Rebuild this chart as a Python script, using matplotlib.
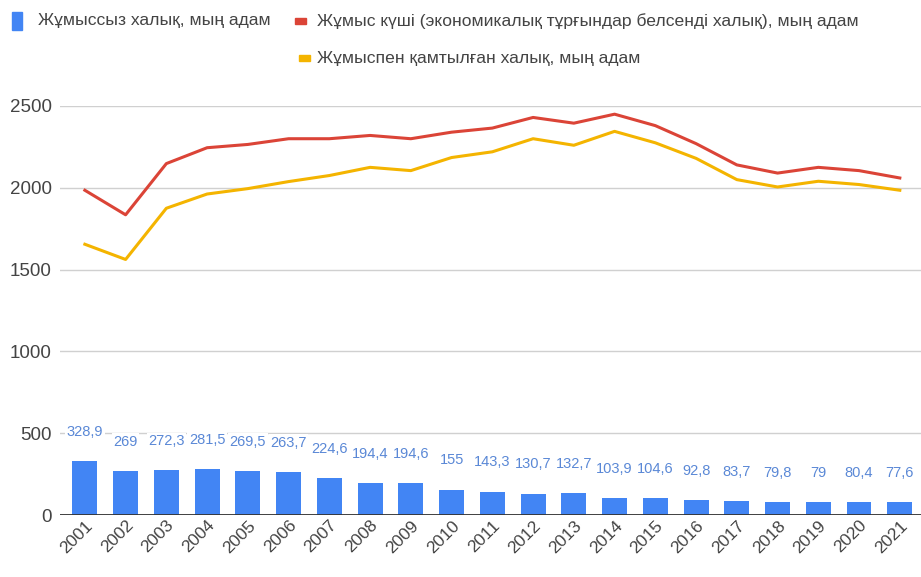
"""
Labour force, employed and unemployed population, 2001-2021.
"""

import matplotlib as mpl

mpl.use("Agg")

import matplotlib.pyplot as plt
import numpy as np
from matplotlib.patches import Rectangle

plt.rcParams["font.family"] = ["Liberation Sans", "DejaVu Sans"]

years = [str(y) for y in range(2001, 2022)]
unemployed = [328.9, 269, 272.3, 281.5, 269.5, 263.7, 224.6, 194.4, 194.6, 155,
              143.3, 130.7, 132.7, 103.9, 104.6, 92.8, 83.7, 79.8, 79, 80.4, 77.6]
labour_force = [1985, 1835, 2148, 2245, 2265, 2300, 2300, 2320, 2300, 2340,
                2365, 2430, 2395, 2450, 2380, 2270, 2140, 2090, 2125, 2105, 2060]
employed = [1655, 1562, 1875, 1962, 1995, 2038, 2075, 2125, 2105, 2185,
            2220, 2300, 2260, 2345, 2275, 2180, 2050, 2005, 2040, 2020, 1985]

label_unemployed = "Жұмыссыз халық, мың адам"
label_labour = "Жұмыс күші (экономикалық тұрғындар белсенді халық), мың адам"
label_employed = "Жұмыспен қамтылған халық, мың адам"

BLUE = "#4285f4"
RED = "#db4437"
YELLOW = "#f4b400"
LABEL_BLUE = "#5a88d6"
TEXT = "#444444"

W, H = 921, 577
fig = plt.figure(figsize=(W / 100, H / 100), dpi=100)
ax = fig.add_axes([60 / W, 1 - 515 / H, 1 - 60 / W, (515 - 106) / H])

x = np.arange(len(years))
ax.bar(x, unemployed, width=0.61, color=BLUE, zorder=2)
ax.plot(x, labour_force, color=RED, lw=2.2, zorder=3)
ax.plot(x, employed, color=YELLOW, lw=2.2, zorder=3)

for xi, v in zip(x, unemployed):
    txt = f"{v:g}".replace(".", ",")
    ax.annotate(txt, (xi, v), xytext=(0, 21), textcoords="offset points",
                ha="center", va="center", fontsize=10.5, color=LABEL_BLUE, zorder=4,
                bbox=dict(boxstyle="square,pad=0.1", fc="white", ec="none"))

ax.set_xlim(-0.61, len(years) - 0.48)
ax.set_ylim(0, 2500)
ax.set_yticks([0, 500, 1000, 1500, 2000, 2500])
ax.yaxis.grid(True, color="#d0d0d0", lw=1, zorder=0)
ax.set_axisbelow(True)
ax.axhline(0, color="#333333", lw=1.3, zorder=3)
for s in ax.spines.values():
    s.set_visible(False)
ax.tick_params(axis="y", length=0, labelsize=13.5, labelcolor=TEXT, pad=6)
ax.tick_params(axis="x", length=0, labelsize=12.5, labelcolor=TEXT, pad=2)
ax.set_xticks(x)
ax.set_xticklabels(years, rotation=45, ha="right", rotation_mode="anchor")

# legend drawn by hand to match the layout
fig.patches.append(Rectangle((12 / W, 1 - 30 / H), 10 / W, 18 / H, color=BLUE,
                             transform=fig.transFigure))
fig.text(38 / W, 1 - 21 / H, label_unemployed, fontsize=12.6, color=TEXT, va="center")
fig.patches.append(Rectangle((295 / W, 1 - 24 / H), 11 / W, 6 / H, color=RED,
                             transform=fig.transFigure))
fig.text(317 / W, 1 - 21 / H, label_labour, fontsize=12.6, color=TEXT, va="center")
fig.patches.append(Rectangle((299 / W, 1 - 61 / H), 11 / W, 6 / H, color=YELLOW,
                             transform=fig.transFigure))
fig.text(317 / W, 1 - 58 / H, label_employed, fontsize=12.6, color=TEXT, va="center")

fig.savefig("out.png", dpi=100)
plt.close(fig)
